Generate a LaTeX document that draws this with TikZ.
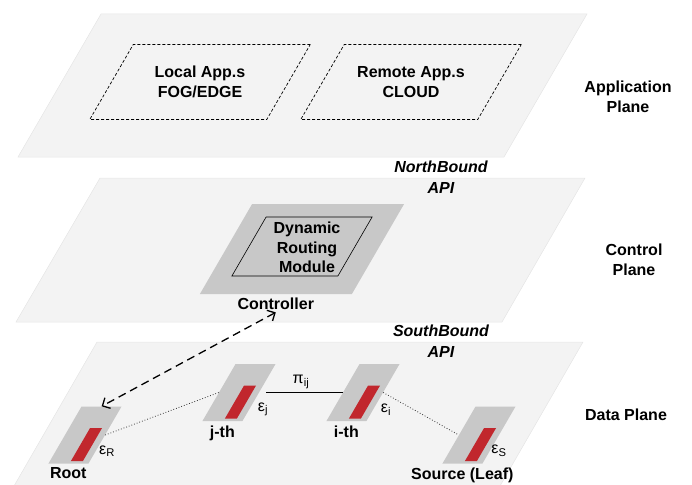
\documentclass[tikz,border=0pt]{standalone}
\usepackage{fontspec}
\setmainfont{Liberation Sans}
\usetikzlibrary{arrows.meta, positioning}

\definecolor{planegray}{HTML}{F3F3F3}
\definecolor{boxgray}{HTML}{C8C8C8}
\definecolor{portred}{HTML}{C1272D}

\begin{document}
\begin{tikzpicture}[x=1pt, y=-1pt, font=\fontsize{16}{19.5}\selectfont\bfseries,
	plane/.style={fill=planegray, draw=black!10, line width=0.5pt},
	para/.style={rectangle, xslant=0.58, transform shape, inner sep=0pt},
	appbox/.style={para, draw, line width=0.7pt, dash pattern=on 3pt off 2pt, minimum width=177, minimum height=75},
	switchbox/.style={para, fill=boxgray, minimum width=40, minimum height=57},
	port/.style={para, fill=portred, minimum width=12, minimum height=33},
	eps/.style={font=\fontsize{16}{19}\selectfont},
	link/.style={line width=0.8pt, dotted, black!80},
	tag/.style={inner sep=2pt}]
	\useasboundingbox (0,0) rectangle (692,484);

	% the three planes
	\path[plane] (101,14) -- (587,14) -- (504,157) -- (18,157) -- cycle;
	\path[plane] (100,178) -- (585,178) -- (502,322) -- (16,322) -- cycle;
	\path[plane] (97,342) -- (583,342) -- (500,486) -- (14,486) -- cycle;

	\node[align=center] (appl) at (628,97) {Application\\Plane};
	\node[align=center] (ctrlpl) at (634,260) {Control\\Plane};
	\node (datapl) at (626,415) {Data Plane};

	\node[align=center, font=\fontsize{16}{20.5}\selectfont\bfseries\itshape] (nbapi) at (441,177) {NorthBound\\API};
	\node[align=center, font=\fontsize{16}{20.5}\selectfont\bfseries\itshape] (sbapi) at (441,341) {SouthBound\\API};

	% application plane
	\node[appbox] (local) at (200,82) {};
	\node[appbox] (remote) at (411,82) {};
	\node[align=center] (localtxt) at (local.center) {Local App.s\\FOG/EDGE};
	\node[align=center] (remotetxt) at (remote.center) {Remote App.s\\CLOUD};

	% control plane
	\node[para, fill=boxgray, minimum width=152, minimum height=90] (ctrl) at (302,249) {};
	\node[para, draw, fill=boxgray, line width=0.6pt, minimum width=106, minimum height=59] (drm) at (302,246.5) {};
	\node[align=center] (drmtxt) at (307,247.5) {Dynamic\\Routing\\Module};
	\node[tag, below=2pt of ctrl] (ctrlname) {Controller};

	% data plane
	\node[switchbox] (root) at (85,435) {};
	\node[switchbox] (jth) at (239,392.5) {};
	\node[switchbox] (ith) at (363,392.5) {};
	\node[switchbox] (src) at (479,435) {};

	\node[port] (rootport) at ([shift={(1.5,9.5)}]root.center) {};
	\node[port] (jport) at ([shift={(1.5,9.5)}]jth.center) {};
	\node[port] (iport) at ([shift={(1.5,9.5)}]ith.center) {};
	\node[port] (srcport) at ([shift={(1.5,9.5)}]src.center) {};

	\node[eps] (epsr) at ([shift={(22,16)}]root.center) {ε\textsubscript{R}};
	\node[eps] (epsj) at ([shift={(24,17)}]jth.center) {ε\textsubscript{j}};
	\node[eps] (epsi) at ([shift={(23,17)}]ith.center) {ε\textsubscript{i}};
	\node[eps] (epss) at ([shift={(20,16)}]src.center) {ε\textsubscript{S}};

	\node[tag, below=2pt of root] (rootname) {Root};
	\node[tag, below=2pt of jth] (jname) {j-th};
	\node[tag, below=2pt of ith] (iname) {i-th};
	\node[tag, below=2pt of src] (srcname) {Source (Leaf)};

	\draw[link] (root.east) -- (jth.west);
	\draw[line width=0.9pt, shorten <=7pt] (jth.east) -- node[eps, above] {π\textsubscript{ij}} (ith.west);
	\draw[link] (ith.east) -- (src.west);

	\draw[{Straight Barb[length=6pt]}-{Straight Barb[length=6pt]}, line width=1.3pt, dash pattern=on 8pt off 5pt] (ctrlname.south) -- (root.north);
\end{tikzpicture}
\end{document}
